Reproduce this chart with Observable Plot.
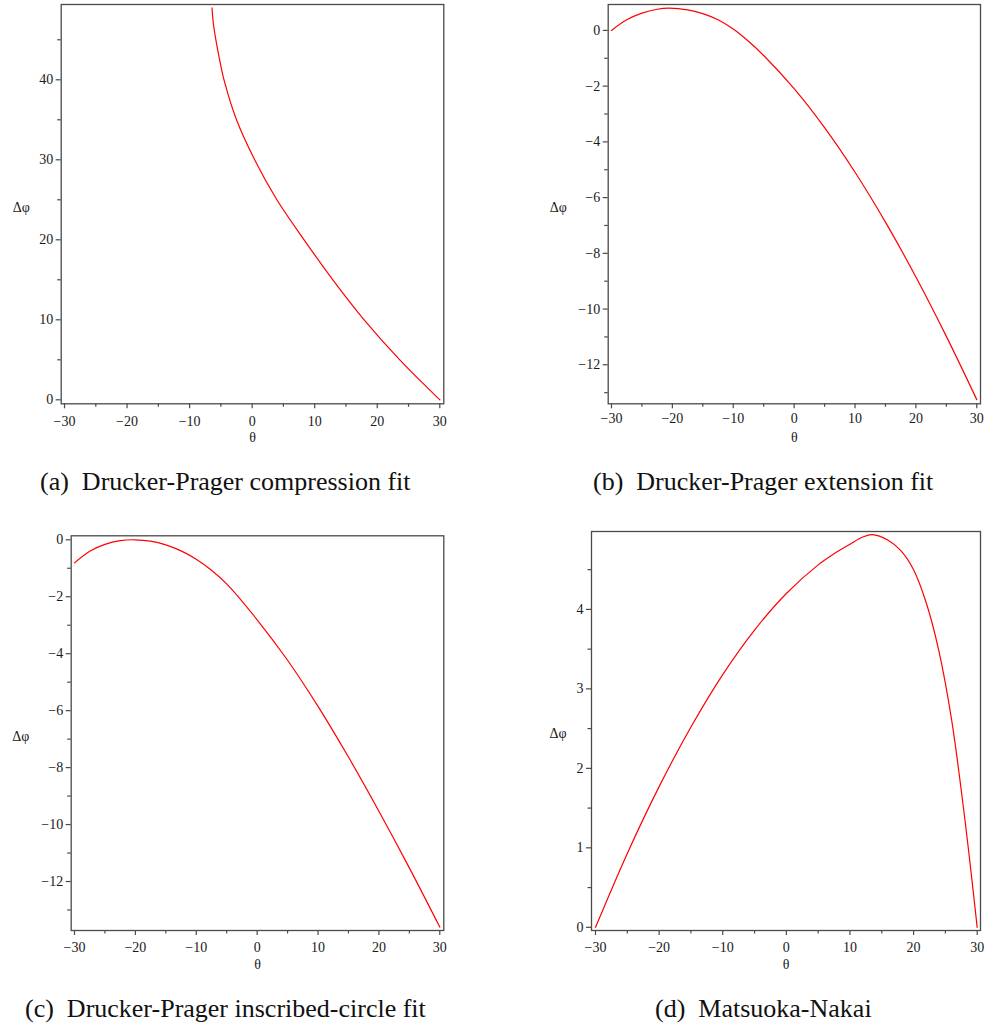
<!DOCTYPE html>
<html>
<head>
<meta charset="utf-8">
<script src="https://cdn.jsdelivr.net/npm/d3@7"></script>
<script src="https://cdn.jsdelivr.net/npm/@observablehq/plot@0.6"></script>
<style>
  html, body { margin: 0; padding: 0; background: #fff; }
  #root { position: relative; width: 986px; height: 1030px; overflow: hidden; font-family: "Liberation Serif", "Times New Roman", serif; color: #1a1a1a; }
  .panel { position: absolute; }
  .panel svg { display: block; }
  #root svg, #root svg text, #root svg tspan { font-family: "Liberation Serif", "Times New Roman", serif !important; }
  #captions { position: absolute; left: 0; top: 0; }
</style>
</head>
<body>
<div id="root"></div>
<script>
// ---------- data ----------
const xLabel = "θ";
const yLabel = "Δφ";
const captions = [
  ["(a)", "Drucker-Prager compression fit"],
  ["(b)", "Drucker-Prager extension fit"],
  ["(c)", "Drucker-Prager inscribed-circle fit"],
  ["(d)", "Matsuoka-Nakai"]
];
const xMajorTicks = [-30, -20, -10, 0, 10, 20, 30];
const xMinorTicks = [-25, -15, -5, 5, 15, 25];

// (a) Drucker-Prager compression fit
const thetaA = [-6.42, -6.2, -5.8, -5.2, -4.5, -2.5, 0.4, 3.95, 8.3, 12.9, 17.9, 23.6, 30];
const dphiA  = [49, 47, 45, 42.5, 40, 35, 30, 25, 20, 15, 10, 5, 0];
const yMajorA = [0, 10, 20, 30, 40];
const yMinorA = [5, 15, 25, 35, 45];

// (b) Drucker-Prager extension fit
const thetaB = [-30, -27.5, -25, -22.5, -20.6, -17.5, -15, -12.5, -10, -7.5, -5, 0, 5, 10, 15, 20, 25, 30];
const dphiB  = [0, 0.38, 0.62, 0.76, 0.80, 0.74, 0.60, 0.38, 0.05, -0.39, -0.90, -2.09, -3.49, -5.09, -6.88, -8.85, -10.98, -13.25];
const yMajorB = [0, -2, -4, -6, -8, -10, -12];
const yMinorB = [-1, -3, -5, -7, -9, -11, -13];

// (c) Drucker-Prager inscribed-circle fit
const thetaC = [-30, -27.5, -25, -22.5, -20, -17.5, -15, -12.5, -10, -7.5, -5, 0, 5, 10, 15, 20, 25, 30];
const dphiC  = [-0.81, -0.40, -0.16, -0.03, 0, -0.05, -0.18, -0.39, -0.68, -1.07, -1.55, -2.81, -4.23, -5.85, -7.63, -9.53, -11.52, -13.6];
const yMajorC = [0, -2, -4, -6, -8, -10, -12];
const yMinorC = [-1, -3, -5, -7, -9, -11, -13];

// (d) Matsuoka-Nakai
const thetaD = [-30, -25, -20, -15, -10, -5, 0, 5, 7.5, 10, 12, 13.5, 16, 18, 20, 22, 24, 26, 28, 29, 30];
const dphiD  = [0, 0.93, 1.77, 2.52, 3.18, 3.74, 4.2, 4.56, 4.70, 4.82, 4.91, 4.94, 4.87, 4.74, 4.5, 4.08, 3.47, 2.6, 1.4, 0.72, 0];
const yMajorD = [0, 1, 2, 3, 4];
const yMinorD = [0.5, 1.5, 2.5, 3.5, 4.5];

// ---------- drawing ----------
const FONT = '"Liberation Serif", "Times New Roman", serif';
const FRAME = "#4a4a4a";
const fmt = d => (d < 0 ? "\u2212" : "") + Math.abs(d);
const root = document.getElementById("root");

function makePanel(cfg) {
  const data = cfg.theta.map((t, i) => ({t, v: cfg.dphi[i]}));
  const plot = Plot.plot({
    width: cfg.w, height: cfg.h,
    marginLeft: cfg.m[0], marginRight: cfg.m[1], marginTop: cfg.m[2], marginBottom: cfg.m[3],
    style: {fontFamily: FONT, fontSize: "14px", color: "#1a1a1a", background: "transparent", overflow: "visible"},
    x: {domain: cfg.xdom, label: null},
    y: {domain: cfg.ydom, label: null},
    marks: [
      Plot.axisX({ticks: xMajorTicks, tickSize: 5, tickPadding: cfg.xpad, tickFormat: fmt, fontSize: 14, label: null, stroke: FRAME, strokeWidth: 1.2}),
      Plot.axisX({ticks: xMinorTicks, tickSize: 3.5, tickFormat: () => "", label: null, stroke: FRAME, strokeWidth: 1.2}),
      Plot.axisY({ticks: cfg.yMajor, tickSize: 5, tickPadding: 3, tickFormat: fmt, fontSize: 14, label: null, stroke: FRAME, strokeWidth: 1.2}),
      Plot.axisY({ticks: cfg.yMinor, tickSize: 3.5, tickFormat: () => "", label: null, stroke: FRAME, strokeWidth: 1.2}),
      Plot.line(data, {x: "t", y: "v", stroke: "#ff0000", strokeWidth: 1.2, curve: "catmull-rom"}),
      Plot.frame({stroke: FRAME, strokeWidth: 1.3}),
      Plot.text([yLabel], {text: d => d, frameAnchor: "left", dx: cfg.ylx, dy: cfg.yly, textAnchor: "middle", fontSize: 14}),
      Plot.text([xLabel], {text: d => d, frameAnchor: "bottom", dy: cfg.xly, textAnchor: "middle", lineAnchor: "middle", fontSize: 14})
    ]
  });
  const div = document.createElement("div");
  div.className = "panel";
  div.style.left = cfg.left + "px";
  div.style.top = cfg.top + "px";
  div.appendChild(plot);
  root.appendChild(div);
}

makePanel({left: 0, top: 0, w: 460, h: 450, m: [60.7, 16.7, 4, 46.7],
  xdom: [-30.53, 30.64], ydom: [-0.5, 49.41], theta: thetaA, dphi: dphiA,
  yMajor: yMajorA, yMinor: yMinorA, xpad: 7, ylx: -40, yly: 3, xly: 33.4});

makePanel({left: 530, top: 0, w: 456, h: 450, m: [77.7, 6, 4, 46.7],
  xdom: [-30.54, 30.61], ydom: [-13.40, 0.93], theta: thetaB, dphi: dphiB,
  yMajor: yMajorB, yMinor: yMinorB, xpad: 4.5, ylx: -50, yly: 3, xly: 33.4});

makePanel({left: 0, top: 520, w: 460, h: 460, m: [70.7, 16.7, 15.3, 50],
  xdom: [-30.54, 30.66], ydom: [-13.72, 0.14], theta: thetaC, dphi: dphiC,
  yMajor: yMajorC, yMinor: yMinorC, xpad: 7, ylx: -50.5, yly: 3, xly: 34});

makePanel({left: 530, top: 520, w: 456, h: 460, m: [61, 6, 11, 50],
  xdom: [-30.63, 30.52], ydom: [-0.04, 4.98], theta: thetaD, dphi: dphiD,
  yMajor: yMajorD, yMinor: yMinorD, xpad: 7, ylx: -33.5, yly: 3, xly: 34});

// captions below each panel
const capPos = [[40, 490], [593, 490], [25, 1016.5], [655, 1016.5]];
const ns = "http://www.w3.org/2000/svg";
const capSvg = document.createElementNS(ns, "svg");
capSvg.setAttribute("id", "captions");
capSvg.setAttribute("width", 986);
capSvg.setAttribute("height", 1030);
capSvg.style.pointerEvents = "none";
captions.forEach(([tag, txt], i) => {
  const t = document.createElementNS(ns, "text");
  t.setAttribute("x", capPos[i][0]);
  t.setAttribute("y", capPos[i][1]);
  t.setAttribute("font-size", 26);
  t.setAttribute("fill", "#111");
  const s1 = document.createElementNS(ns, "tspan");
  s1.textContent = tag;
  const s2 = document.createElementNS(ns, "tspan");
  s2.setAttribute("dx", 13);
  s2.textContent = txt;
  t.appendChild(s1); t.appendChild(s2);
  capSvg.appendChild(t);
});
root.appendChild(capSvg);
</script>
</body>
</html>
